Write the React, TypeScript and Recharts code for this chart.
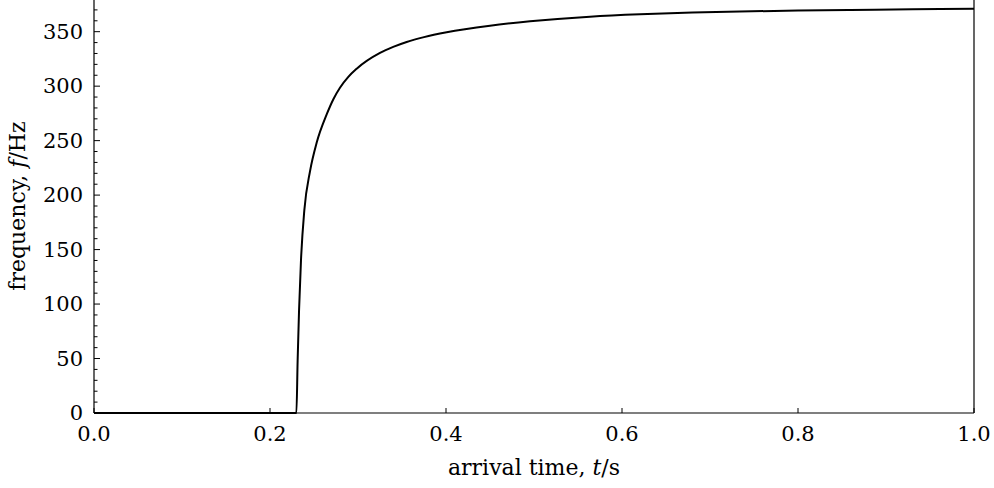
import React from "react";
import { LineChart, Line, XAxis, YAxis, ReferenceLine, Label } from "recharts";

// arrival time (s) and frequency (Hz)
const times = [
  0, 0.23, 0.2314, 0.233, 0.2352, 0.239, 0.2455, 0.253, 0.2644, 0.272,
  0.2795, 0.289, 0.2985, 0.325, 0.34, 0.3553, 0.375, 0.4008, 0.45, 0.4955,
  0.5636, 0.6205, 0.68, 0.734, 0.8, 0.86, 0.93, 1.0,
];
const freqs = [
  0, 0, 48, 94, 140, 186, 222, 248, 274, 288,
  298.5, 308.5, 316, 330.5, 336, 340.5, 345, 349.5, 355.5, 359.5,
  363.8, 366, 367.5, 368.5, 369.4, 370, 370.6, 371.1,
];

const xTicks = [0, 0.2, 0.4, 0.6, 0.8, 1.0];
const yMajor = [0, 50, 100, 150, 200, 250, 300, 350];
const yTicks = Array.from({ length: 38 }, (_, i) => i * 10);

const data = times.map((t, i) => ({ t, f: freqs[i] }));

const FONT = "DejaVu Serif";
const tickStyle = { fontFamily: FONT, fontSize: 21, fill: "#000" };
const labelStyle = { fontFamily: FONT, fontSize: 22, fill: "#000" };
const TICK_GAP = 11;

function YTick({ x, y, payload }: any) {
  const major = yMajor.includes(payload.value);
  const axisX = x + TICK_GAP;
  return (
    <g>
      <line x1={axisX} x2={axisX + (major ? 6 : 3.5)} y1={y} y2={y} stroke="#000" strokeWidth={1} />
      {major && (
        <text x={x} y={y} textAnchor="end" dominantBaseline="central" style={tickStyle}>
          {payload.value}
        </text>
      )}
    </g>
  );
}

function XTick({ x, y, payload }: any) {
  return (
    <text x={x} y={y} textAnchor="middle" dy="0.72em" style={tickStyle}>
      {payload.value.toFixed(1)}
    </text>
  );
}

export default function App() {
  return (
    <div style={{ position: "fixed", left: 0, top: 0, width: 994, height: 488, overflow: "hidden", background: "#fff" }}>
      <div style={{ position: "absolute", left: 0, top: -10 }}>
        <LineChart width={994} height={498} data={data} margin={{ top: 9, right: 20, bottom: 45, left: 0 }}>
          <XAxis
            dataKey="t"
            type="number"
            domain={[0, 1]}
            ticks={xTicks}
            interval={0}
            height={30}
            tickSize={-5}
            tickMargin={18}
            axisLine={{ stroke: "#000", strokeWidth: 1.2 }}
            tickLine={{ stroke: "#000" }}
            tick={<XTick />}
          >
            <Label
              content={({ viewBox }: any) => (
                <text
                  x={viewBox.x + viewBox.width / 2}
                  y={viewBox.y + 62}
                  textAnchor="middle"
                  style={labelStyle}
                >
                  arrival time, <tspan fontStyle="italic">t</tspan>/s
                </text>
              )}
            />
          </XAxis>
          <YAxis
            type="number"
            domain={[0, 380]}
            ticks={yTicks}
            interval={0}
            width={94}
            tickSize={0}
            tickMargin={TICK_GAP}
            tickLine={false}
            axisLine={{ stroke: "#000", strokeWidth: 1.2 }}
            tick={<YTick />}
          >
            <Label
              content={({ viewBox }: any) => {
                const cx = viewBox.x + 25;
                const cy = viewBox.y + viewBox.height / 2;
                return (
                  <text
                    x={cx}
                    y={cy}
                    transform={`rotate(-90, ${cx}, ${cy})`}
                    textAnchor="middle"
                    style={labelStyle}
                  >
                    frequency, <tspan fontStyle="italic">f</tspan>/Hz
                  </text>
                );
              }}
            />
          </YAxis>
          <ReferenceLine x={1} stroke="#000" strokeWidth={1.2} />
          <ReferenceLine y={380} stroke="#000" strokeWidth={1.2} />
          <Line
            type="monotone"
            dataKey="f"
            stroke="#000"
            strokeWidth={2}
            dot={false}
            activeDot={false}
            isAnimationActive={false}
          />
        </LineChart>
      </div>
    </div>
  );
}
